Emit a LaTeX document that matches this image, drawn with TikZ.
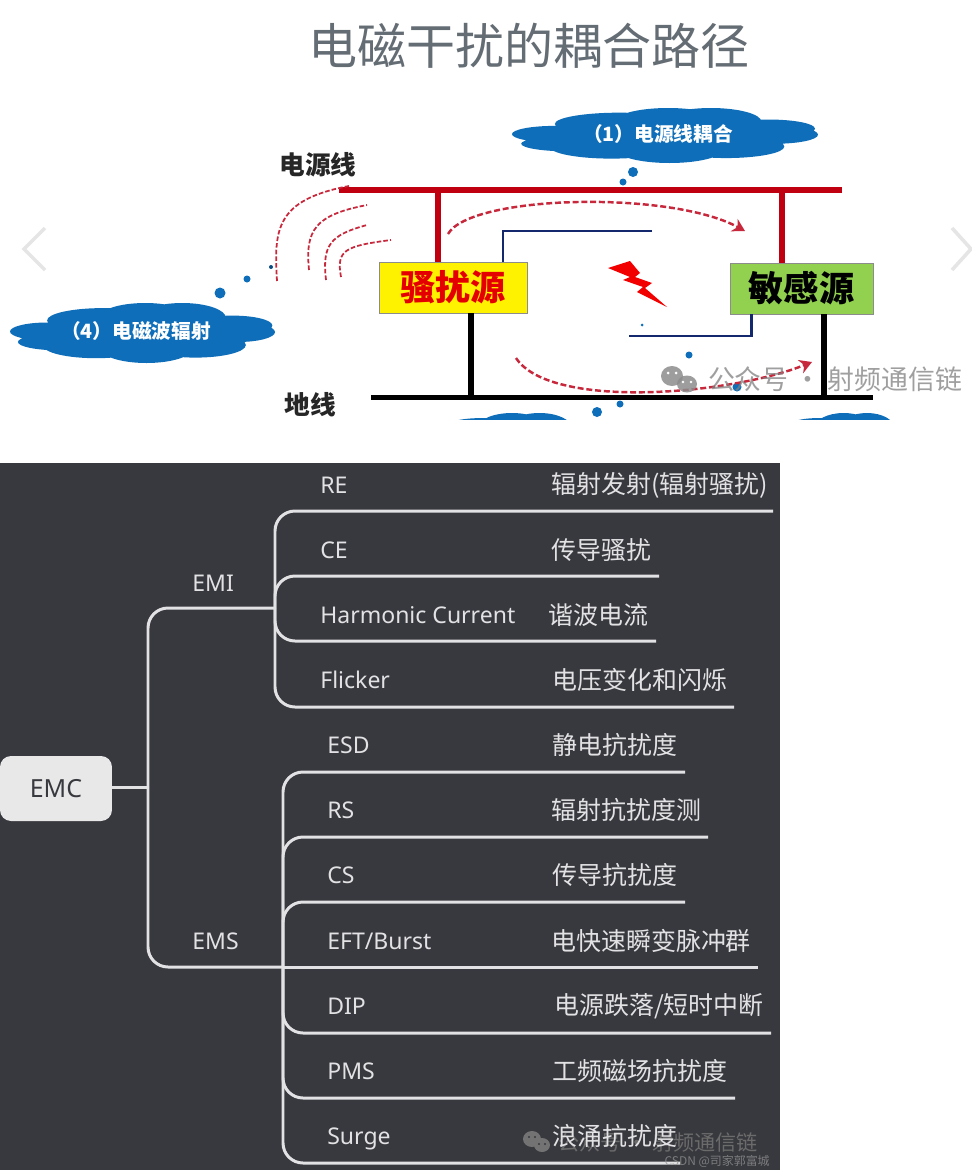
\documentclass[tikz,border=0pt]{standalone}
\usepackage{fontspec}
\setmainfont{Noto Sans CJK SC}
\newfontfamily\latinfont{Noto Sans}
\usepackage{xcolor}
\usetikzlibrary{arrows.meta, positioning}
\definecolor{panelgray}{RGB}{56,57,62}
\definecolor{branchgray}{RGB}{226,226,228}
\definecolor{cloudblue}{RGB}{15,110,185}
\definecolor{powerred}{RGB}{192,0,16}
\definecolor{wavered}{RGB}{200,40,60}
\definecolor{couplenavy}{RGB}{20,40,110}
\definecolor{victimgreen}{RGB}{146,208,80}
\definecolor{titlegray}{RGB}{100,108,116}
\newcommand{\skyblob}[4]{%
  \begin{scope}[shift={(#1,#2)}, xscale=#3, yscale=#4]
    \fill[cloudblue] (-.30,-.42) ellipse (.42 and .41) (.02,-.5) ellipse (.35 and .5) (.30,-.5) ellipse (.33 and .5)
      (.68,-.25) ellipse (.30 and .33) (-.72,-.05) ellipse (.28 and .30) (-.62,.3) ellipse (.32 and .28)
      (.72,-.03) ellipse (.28 and .33) (-.35,.42) ellipse (.40 and .42) (.03,.5) ellipse (.35 and .5)
      (.4,.4) ellipse (.38 and .42) (0,0) ellipse (.72 and .65);
  \end{scope}}
\tikzset{
  skylabel/.style={white, font=\fontsize{11.2}{13}\selectfont\bfseries},
  wirelabel/.style={black!85, font=\fontsize{14.6}{16}\selectfont\bfseries},
  sourcebox/.style={draw=black!45, line width=0.5pt, minimum width=2.96cm, minimum height=1.02cm, inner sep=0pt},
  powerline/.style={powerred, line width=3pt},
  groundline/.style={black, line width=3pt},
  nearline/.style={couplenavy, line width=1.7pt},
  waveline/.style={wavered, line width=1pt, dash pattern=on 2.6pt off 1.2pt},
  flowline/.style={wavered, line width=1.4pt, dash pattern=on 3.4pt off 1.6pt, -{Stealth[length=7pt,width=8pt]}},
  branch/.style={branchgray, line width=1.7pt, rounded corners=0.4cm},
  termlabel/.style={anchor=west, inner sep=0pt, text height=11.3pt, text depth=2pt, branchgray, font=\fontsize{13.1}{16}\selectfont\latinfont},
  cnlabel/.style={anchor=west, inner sep=0pt, branchgray, font=\fontsize{14.2}{16}\selectfont},
  markgray/.style={text=black!50, font=\fontsize{15.3}{17}\selectfont},
}
\begin{document}
\begin{tikzpicture}[x=0.02cm, y=-0.02cm]
  \useasboundingbox (0,0) rectangle (971,1170);
  \fill[white] (0,0) rectangle (971,1170);

  % Title and carousel arrows
  \node[titlegray, font=\fontsize{27.9}{30}\selectfont] (title) at (529,46) {电磁干扰的耦合路径};
  \draw[black!10, line width=2pt] (45,228) -- (24,249) -- (45,270);
  \draw[black!10, line width=2pt] (952,228) -- (971,249) -- (952,270);

  % Clouds cut off by the crop
  \begin{scope}
    \clip (380,400) rectangle (940,419);
    \skyblob{510}{443}{98}{30}
    \skyblob{842}{443}{83}{30}
  \end{scope}

  % Clouds with labels
  \skyblob{665}{135.5}{153}{27.5}
  \node[skylabel] (cloudOneText) at (658,134) {（1）电源线耦合};
  \skyblob{142.5}{333}{132.5}{30}
  \node[skylabel] (cloudFourText) at (136,331) {（4）电磁波辐射};

  % Bubbles
  \fill[cloudblue] (220,293) circle (5.5);
  \fill[cloudblue] (247,279) circle (3.5);
  \fill[cloudblue!70!black] (271,267) circle (2);
  \fill[cloudblue] (633,172) circle (5);
  \fill[cloudblue] (623,182) circle (3.5);
  \fill[cloudblue] (642,325) circle (1.5);
  \fill[cloudblue] (689,355) circle (3.5);
  \fill[cloudblue] (737,387) circle (4.5);
  \fill[cloudblue] (620,404) circle (3.5);
  \fill[cloudblue] (597,412) circle (5);

  % Source boxes
  \node[sourcebox, fill=yellow, text=red!90!black, font=\fontsize{20}{22}\selectfont\bfseries] (noise) at (453,287.5) {骚扰源};
  \node[sourcebox, fill=victimgreen, minimum width=2.86cm, text=black, font=\fontsize{20}{22}\selectfont\bfseries] (victim) at (801.5,288.5) {敏感源};

  % Supply and ground wires
  \coordinate (pwrL) at (339,190);
  \coordinate (pwrR) at (842,190);
  \coordinate (pwrTapA) at (438,190);
  \coordinate (pwrTapB) at (782,190);
  \coordinate (gndL) at (371,397.5);
  \coordinate (gndR) at (873,397.5);
  \coordinate (gndTapA) at (471,397.5);
  \coordinate (gndTapB) at (824,397.5);
  \node[wirelabel] (pwrText) at (318,165) {电源线};
  \node[wirelabel] (gndText) at (310,405) {地线};
  \draw[powerline] (pwrL) -- (pwrR);
  \draw[powerline] (pwrTapA) -- (pwrTapA |- noise.north);
  \draw[powerline] (pwrTapB) -- (pwrTapB |- victim.north);
  \draw[groundline] (gndL) -- (gndR);
  \draw[groundline] (gndTapA) -- (gndTapA |- noise.south);
  \draw[groundline] (gndTapB) -- (gndTapB |- victim.south);

  % Near field wires
  \coordinate (nearA) at (652,231);
  \coordinate (nearB) at (503,231);
  \coordinate (nearC) at (629,336);
  \coordinate (nearD) at (751,336);
  \draw[nearline] (nearA) -- (nearB) -- (nearB |- noise.north);
  \draw[nearline] (nearC) -- (nearD) -- (nearD |- victim.south);

  % Lightning
  \fill[red!95!black] (608,268) -- (630,261) -- (640,273) -- (635,277) -- (652,283) -- (645,288) -- (667,307) -- (637,292) -- (643,287) -- (623,280) -- (630,277) -- cycle;

  % Dashed flows
  \coordinate (flowTopA) at (448,234);
  \coordinate (flowTopB) at (745,231);
  \coordinate (flowLowA) at (516,358);
  \coordinate (flowLowB) at (812,362);
  \draw[flowline] (flowTopA) .. controls (470,195) and (670,190) .. (flowTopB);
  \draw[flowline] (flowLowA) .. controls (550,410) and (730,395) .. (flowLowB);

  % Radiated waves
  \draw[waveline] (277,281) .. controls (274,230) and (275,200) .. (349,186);
  \draw[waveline] (309,270) .. controls (305,230) and (315,215) .. (367,205);
  \draw[waveline] (326,280) .. controls (322,245) and (330,235) .. (367,225);
  \draw[waveline] (341,277) .. controls (336,250) and (345,246) .. (391,240);

  % Watermark on the top part
  \fill[black!45, opacity=0.85] (672,376) ellipse (11 and 10);
  \fill[white] (668,373) circle (1.5) (676,373) circle (1.5);
  \fill[black!45, opacity=0.85] (687,384) ellipse (10 and 8.5);
  \fill[white] (683,382) circle (1.3) (691,382) circle (1.3);
  \node[markgray, opacity=0.75] (markTop) at (835,379) {公众号 · 射频通信链};

  % Mind map panel
  \fill[panelgray] (0,463) rectangle (780,1170);
  \node[fill=branchgray!80!white, rounded corners=0.22cm, minimum width=2.24cm, minimum height=1.3cm, inner sep=0pt, text=panelgray, font=\fontsize{14.2}{16}\selectfont\latinfont] (emc) at (56,788.5) {EMC};

  % Watermark under the texts
  \fill[black!55] (532,1139) ellipse (9 and 8);
  \fill[panelgray] (529,1137) circle (1.2) (535,1137) circle (1.2);
  \fill[black!55] (542,1145) ellipse (8 and 7);
  \fill[panelgray] (539,1144) circle (1.1) (545,1144) circle (1.1);
  \node[text=black!58, font=\fontsize{12}{14}\selectfont] (markLow) at (658,1142) {公众号 · 射频通信链};

  % First level
  \coordinate (trunk) at (148,787);
  \coordinate (emiHub) at (275,608);
  \coordinate (emsHub) at (283,967);
  \node[termlabel] (emi) at (192,583) {EMI};
  \node[termlabel] (ems) at (192,941) {EMS};
  \draw[branch] (emc.east |- trunk) -- (trunk);
  \draw[branch] (trunk) |- (emiHub);
  \draw[branch] (trunk) |- (emsHub);

  % EMI items
  \coordinate (reEnd) at (773,511);
  \coordinate (ceEnd) at (659,576);
  \coordinate (hcEnd) at (656,641);
  \coordinate (flEnd) at (734,707);
  \draw[branch] (emiHub) |- (reEnd);
  \draw[branch] (emiHub) |- (ceEnd);
  \draw[branch] (emiHub) |- (hcEnd);
  \draw[branch] (emiHub) |- (flEnd);
  \node[termlabel] (re) at (320,485) {RE};
  \node[termlabel] (ce) at (320,550) {CE};
  \node[termlabel] (hc) at (320,615) {Harmonic Current};
  \node[termlabel] (fl) at (320,680) {Flicker};
  \node[cnlabel] (reCn) at (551,485) {辐射发射(辐射骚扰)};
  \node[cnlabel] (ceCn) at (551,550) {传导骚扰};
  \node[cnlabel] (hcCn) at (548,615) {谐波电流};
  \node[cnlabel] (flCn) at (552,680) {电压变化和闪烁};

  % EMS items
  \coordinate (esdEnd) at (685,772);
  \coordinate (rsEnd) at (708,837);
  \coordinate (csEnd) at (685,902);
  \coordinate (eftEnd) at (758,967);
  \coordinate (dipEnd) at (771,1033);
  \coordinate (pmsEnd) at (735,1098);
  \coordinate (surgeEnd) at (680,1163);
  \draw[branch] (emsHub) |- (esdEnd);
  \draw[branch] (emsHub) |- (rsEnd);
  \draw[branch] (emsHub) |- (csEnd);
  \draw[branch] (emsHub) -- (eftEnd);
  \draw[branch] (emsHub) |- (dipEnd);
  \draw[branch] (emsHub) |- (pmsEnd);
  \draw[branch] (emsHub) |- (surgeEnd);
  \node[termlabel] (esd) at (327,745) {ESD};
  \node[termlabel] (rs) at (327,810) {RS};
  \node[termlabel] (cs) at (327,875) {CS};
  \node[termlabel] (eft) at (327,941) {EFT/Burst};
  \node[termlabel] (dip) at (327,1006) {DIP};
  \node[termlabel] (pms) at (327,1071) {PMS};
  \node[termlabel] (surge) at (327,1136) {Surge};
  \node[cnlabel] (esdCn) at (552,745) {静电抗扰度};
  \node[cnlabel] (rsCn) at (551,810) {辐射抗扰度测};
  \node[cnlabel] (csCn) at (552,875) {传导抗扰度};
  \node[cnlabel] (eftCn) at (551,941) {电快速瞬变脉冲群};
  \node[cnlabel] (dipCn) at (554,1006) {电源跌落/短时中断};
  \node[cnlabel] (pmsCn) at (552,1071) {工频磁场抗扰度};
  \node[cnlabel] (surgeCn) at (552,1136) {浪涌抗扰度};

  % Site mark
  \node[anchor=east, inner sep=0pt, text=black!35!branchgray, opacity=0.75, font=\fontsize{6.8}{8}\selectfont] (siteMark) at (770,1161) {CSDN @司家郭富城};
\end{tikzpicture}
\end{document}
